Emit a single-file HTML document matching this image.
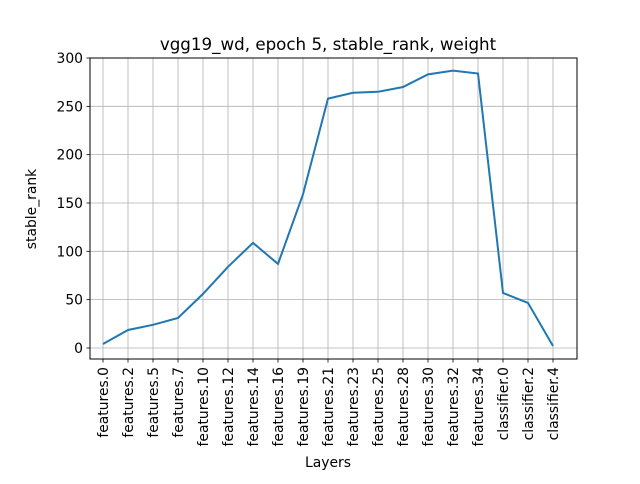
<!DOCTYPE html>
<html><head><meta charset="utf-8"><style>
body{margin:0;background:#fff;font-family:"DejaVu Sans","Liberation Sans",sans-serif;}
</style></head><body>
<svg width="640" height="480" xmlns="http://www.w3.org/2000/svg" id="svg">
<rect width="640" height="480" fill="#fff"/>
<text x="328" y="50" text-anchor="middle" font-size="16.7">vgg19_wd, epoch 5, stable_rank, weight</text>
<text x="328" y="467" text-anchor="middle" font-size="13.9">Layers</text>
<text transform="translate(36,209) rotate(-90)" text-anchor="middle" font-size="13.9">stable_rank</text>
<g id="grid"></g><g id="ticks"></g>
<path id="line" fill="none" stroke="#1f77b4" stroke-width="2"/>
<rect x="90" y="58" width="487" height="301" fill="none" stroke="#000" stroke-width="1"/>
</svg>
<script>
const categories=["features.0","features.2","features.5","features.7","features.10","features.12","features.14","features.16","features.19","features.21","features.23","features.25","features.28","features.30","features.32","features.34","classifier.0","classifier.2","classifier.4"];
const values=[4.1,18.6,24,31,56,84,108.7,87,159,258,264,265,270,283,287,284,57,46.6,2];
const yTicks=[0,50,100,150,200,250,300];
const L=90,R=577,T=58,B=359,xmin=-0.52,xmax=18.96,ymin=-11.4,ymax=300;
const sx=i=>L+(i-xmin)/(xmax-xmin)*(R-L);
const sy=v=>B-(v-ymin)/(ymax-ymin)*(B-T);
const NS="http://www.w3.org/2000/svg";
const grid=document.getElementById('grid'),ticks=document.getElementById('ticks');
function mk(tag,attrs,parent){const e=document.createElementNS(NS,tag);for(const k in attrs)e.setAttribute(k,attrs[k]);parent.appendChild(e);return e;}
categories.forEach((c,i)=>{const x=sx(i);
const g=mk('line',{x1:x,x2:x,y1:T,y2:B,stroke:'#b0b0b0','stroke-width':0.8},grid);


const t=mk('line',{x1:x,x2:x,y1:B,y2:B+3.5,stroke:'#000','stroke-width':0.8},ticks);


const tx=mk('text',{transform:`translate(${x+5},${B+8}) rotate(-90)`,'text-anchor':'end','font-size':13.9},ticks);
tx.textContent=c;


});
yTicks.forEach(v=>{const y=sy(v);
const g=mk('line',{x1:L,x2:R,y1:y,y2:y,stroke:'#b0b0b0','stroke-width':0.8},grid);


const t=mk('line',{x1:L-3.5,x2:L,y1:y,y2:y,stroke:'#000','stroke-width':0.8},ticks);


const tx=mk('text',{x:L-7,y:y+5,'text-anchor':'end','font-size':13.9},ticks);
tx.textContent=v;


});
document.getElementById('line').setAttribute('d',values.map((v,i)=>(i?'L':'M')+sx(i).toFixed(1)+','+sy(v).toFixed(1)).join(''));
</script>
</body></html>
